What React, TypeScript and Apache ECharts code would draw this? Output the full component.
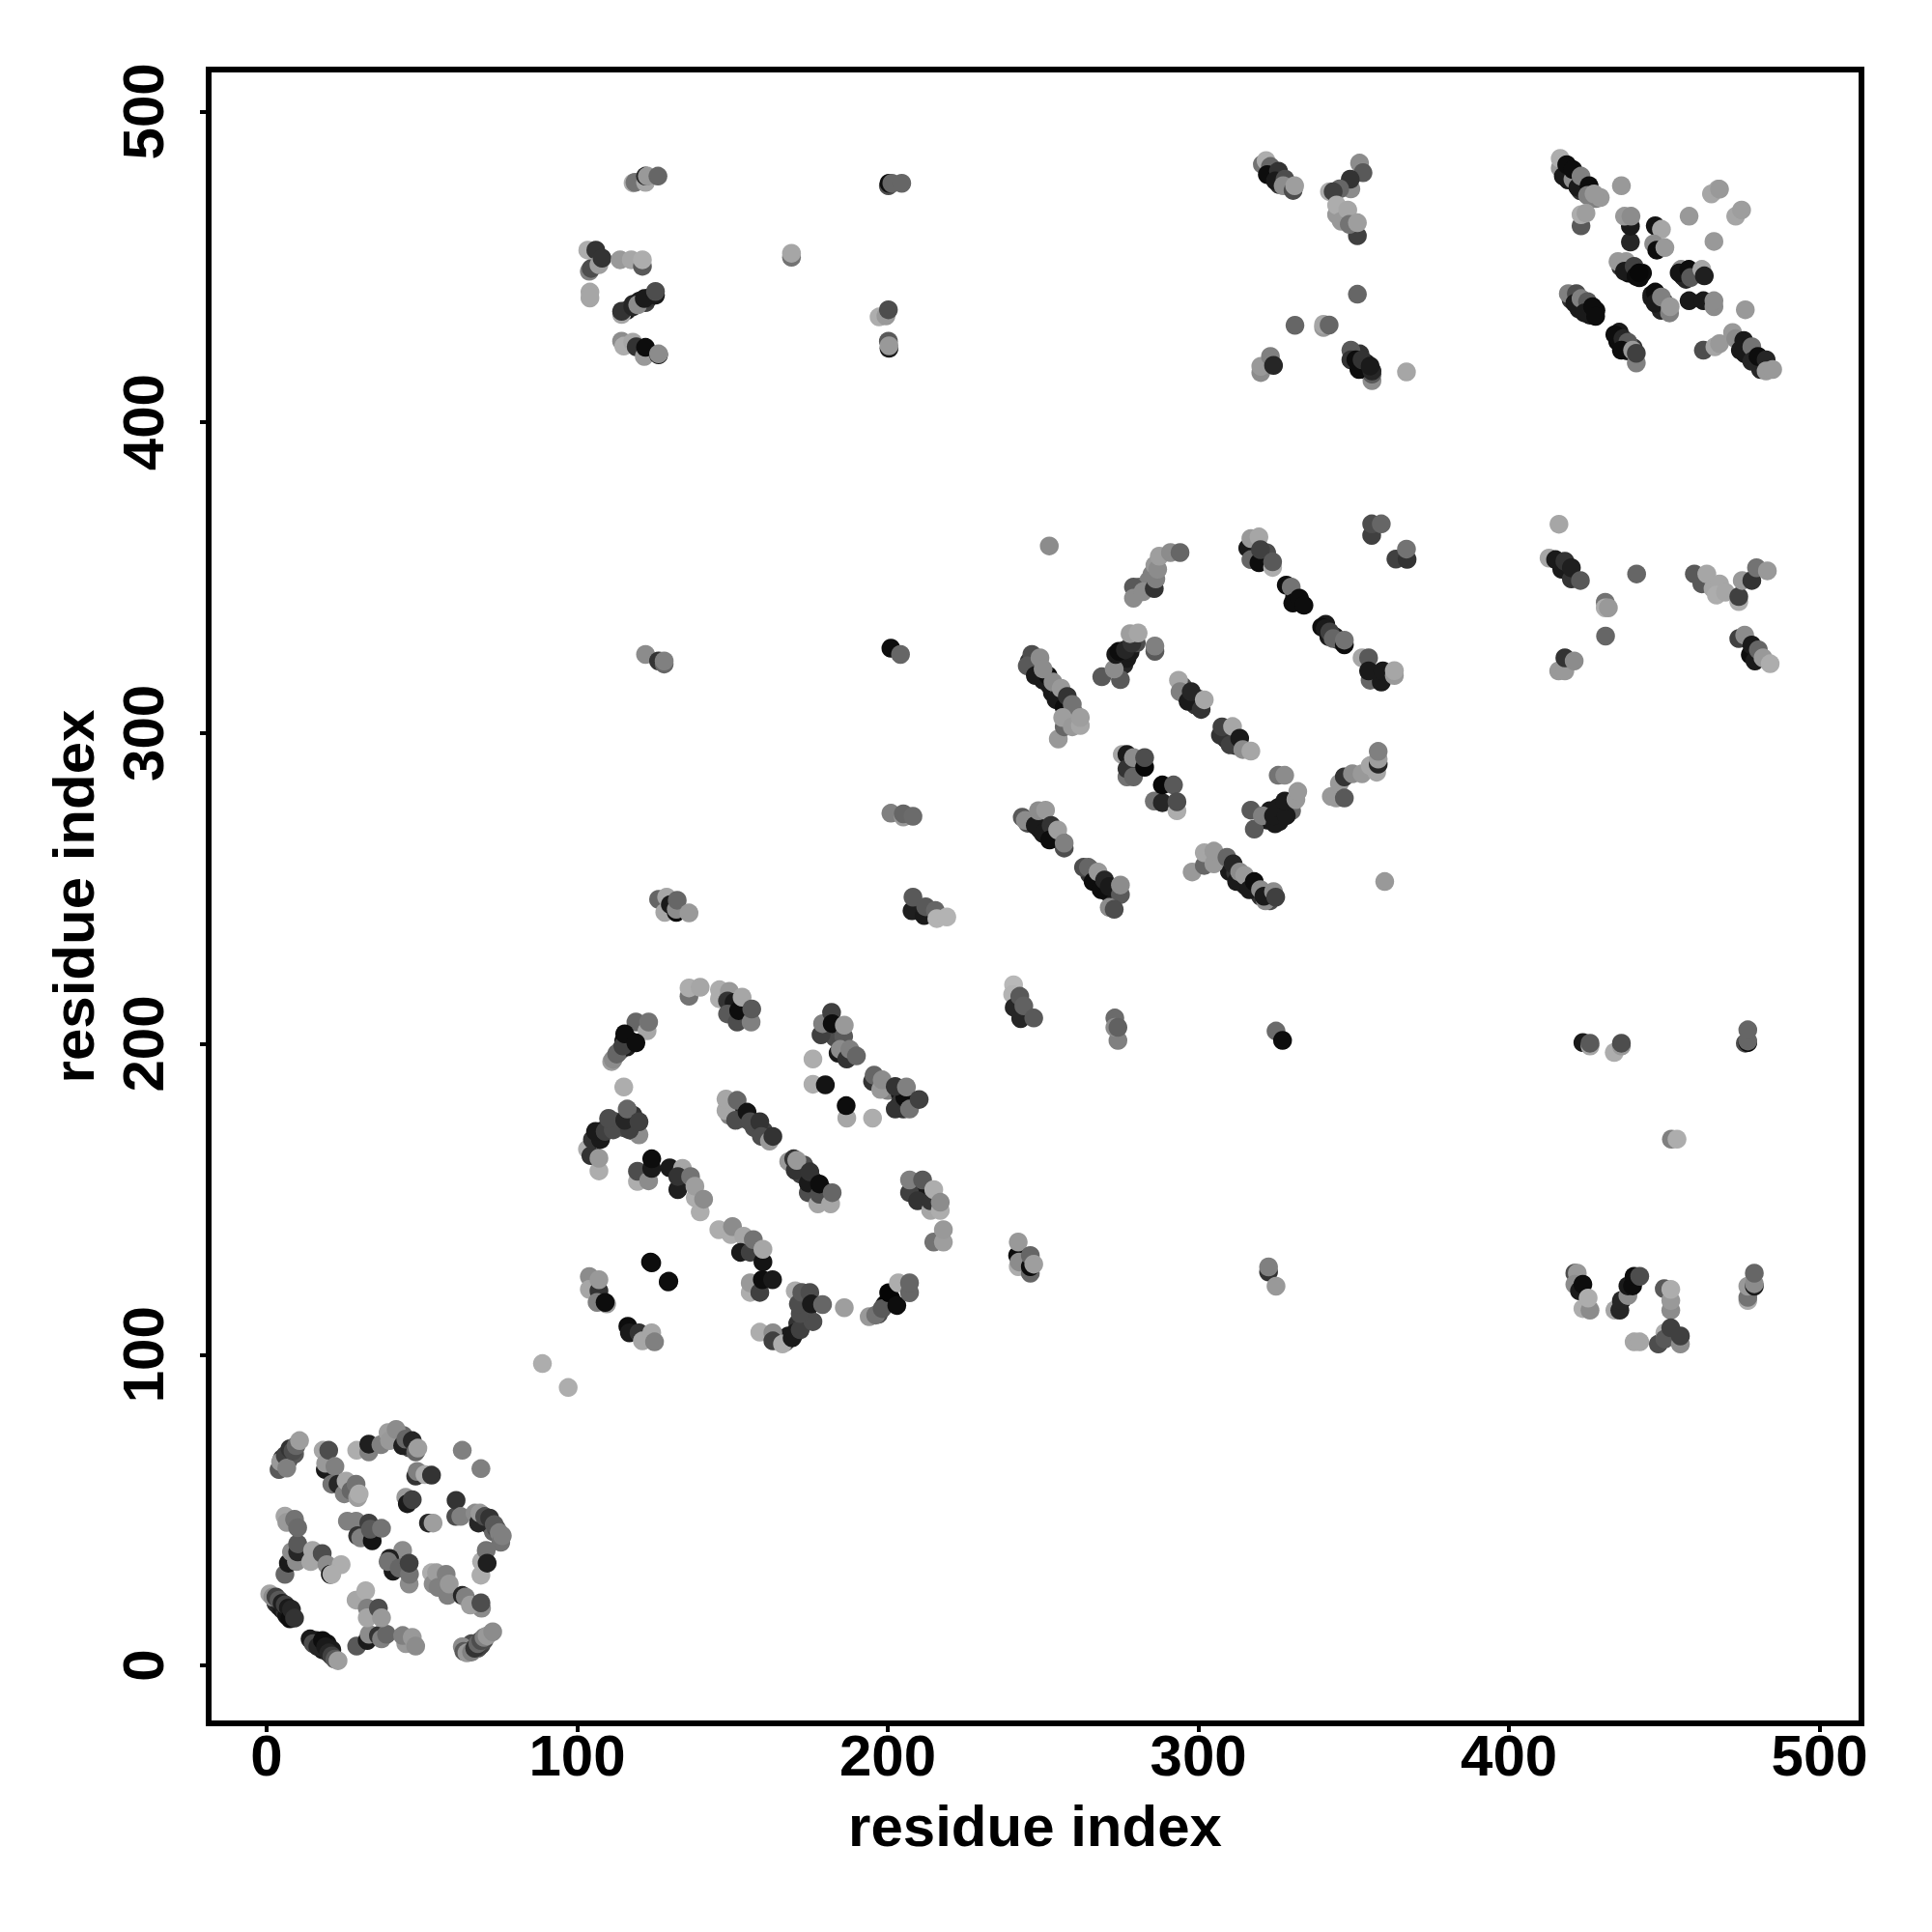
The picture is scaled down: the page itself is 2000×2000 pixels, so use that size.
import React, { useEffect, useRef } from "react";
import * as echarts from "echarts";

type P = [number, number, number];

const tickValues = [0, 100, 200, 300, 400, 500];
const axisTitle = "residue index";

const denseStrands: P[] = [
  [245.5,323,.2],[247,321,.15],[248.5,320,.1],[250,317,.1],[252,315.5,.1],[253,313,.1],[255,312,.2],[256,310,.15],[258,308,.3],[260,306.5,.5],
  [245,271,.3],[246.5,271.5,.2],[249,269,.1],[251,269.5,.25],[251.5,267,.1],[253.5,266,.15],[255.5,265.5,.35],
  [265,254.5,.2],[265.5,256,.45],[267,253,.1],[268.5,251,.1],[270.5,249,.08],[272.5,250,.2],[273,248,.1],
  [307,259,.4],[309,258,.2],[310,255.5,.1],[312,255,.2],[314,252.5,.15],[315,251,.1],[317,251,.4],[319,249,.2],[320,247.5,.2],[322,248,.3],[323,246,.3],
  [309,300,.2],[309,298,.15],[311,298,.15],[312,296,.2],
  [295,315,.3],[296,312,.2],[298,311,.1],[299,309,.2],[300,311,.3],
  [281,347,.4],[283,347,.3],[284,349,.5],[285,351,.5],[286,354,.6],
  [317.5,358,.15],[318,357,.1],[321,356,.1],[322,358,.3],
  [331,344,.05],[331,343,.1],[333,342,.05],
  [341,335,.1],[342,331,.1],[344,331,.1],[345,330,.15],
  [275,323,.1],[276,322,.15],[276,325,.1],[277,324,.1],[278,326,.1],[280,329,.3],
  [322,272,.1],[323,275,.1],[326,274,.1],[326,271.5,.1],[329,276,.2],[330,275,.4],
  [418,480,.1],[419,478,.1],[421,479.5,.1],[423,474.5,.2],[424,476.5,.05],[426,474.5,.1],[428,472,.5],
  [420,439.5,.2],[422.5,436.5,.1],[425,436,.1],[426,434.5,.1],[428,436,.05],
  [435,426,.05],[435.5,429,.1],[437.5,425,.1],[438,423,.1],[440,424,.2],
  [436,450,.2],[438.5,448,.05],[439,449.5,.1],[442,446.5,.05],[443,448,.05],
  [446,440,.1],[446,441,.1],[448,439,.1],[449,436,.15],[450,438.5,.1],
  [456,447,.1],[457,446,.15],[459,448,.2],
  [476,422,.1],[476,425,.1],[477,423,.1],[479,420,.1],[481,418,.1],[481,417,.15],[483,418,.05],
  [116,436,.1],[118,438,.15],[120,439,.1],[122,438.5,.25],[123,440,.2],
  [323,481,.2],[325,479,.1],[326,476.5,.2],[327,477,.1],[329,476,.2],
  [351,419,.1],[352,418.5,.1],[352,422,.2],[353.5,417,.1],[354,419,.1],
  [3,20,.2],[4,19,.15],[5,18,.1],[6,17,.2],[6.5,16,.08],[8,16,.15],
  [16,8,.1],[17,7,.1],[18,5,.1],[19.5,7,.08],[21,5,.1],
  [65,6,.4],[66,7,.3],[68,5.5,.3],[69,6.5,.25],[70,8,.3],
  [5,64,.4],[5,66.5,.2],[5.5,65,.3],[7,66,.3],[8,68,.2],[9,68,.35],
  [42,74,.5],[43,73,.3],[44,74,.4],[45,71,.2],[46,70,.3],[47,70,.25],
  [69,47,.1],[71,46,.2],[72,45,.2],[73,43,.4],[74,44,.3],
  [113,197,.3],[114,198,.35],[115,201,.05],[116,199,.1],[117,201,.05],
  [105,168,.15],[106,170,.1],[108,172,.15],[112,175,.3],[113,174,.3],[115,173,.3],[118,172,.3],[118,177,.2],
  [149,177,.5],[152,178,.1],[153,176,.2],[157,173,.3],[160,172,.25],[161,170,.2],
  [172,158,.25],[173,161,.3],[176,156,.2],[176,153,.1],[179,153,.2],
  [167,104,.3],[168,106,.1],[171,110,.2],[173,112,.3],[173,118,.3],[174,114,.3],
  [197,113,.3],[199,116,.1],[200,117,.02],[201,118,.02],
  [182,204,.2],[183,202,.3],[184,197,.1],[185,200,.3],[186,199,.1],[188,197,.2],
  [197,187,.3],[200,185,.5],[204,184,.1],[204,181,.2],[205,179,.2],
  [209,152,.2],[209,153,.1],[211,151,.1],[212,153,.1],
];

const blockA: P[] = [
  [1,23,.65],[2,22,.55],[3,22,.25],[4,21,.35],[5,20,.12],[6,19.5,.25],[7,18.5,.1],[7.5,15,.05],[8,18,.15],[9,15.2,.2],
  [14,8.5,.1],[15,7,.3],[16.5,6,.15],[18,8,.05],[19,6,.1],[20,4,.15],[21,3,.25],[22,2,.35],[23,1.5,.62],
  [29,6.2,.35],[32.4,8,.1],[33,10,.55],[36,9.6,.2],[37,8.5,.5],[38.6,10,.4],[44.8,7,.6],[43.8,9.6,.5],[46.9,9,.6],[48,6.2,.55],
  [28.8,21,.65],[31.9,24,.68],[32.4,18.4,.5],[32.4,15.3,.65],[36,18.4,.3],[37,15.3,.6],
  [63,6,.55],[63.5,4.5,.35],[64.5,4,.6],[66,4.3,.5],[67,5.5,.2],[68,7,.4],[69,8,.3],[70,9,.5],[71,9.5,.6],[72.8,10.8,.55],
  [53.1,29.8,.68],[53.6,26.2,.55],[54.7,29.8,.62],[55.2,25.1,.5],[57.8,29.3,.5],[58.3,22.5,.5],[58.8,26.2,.6],[63,22.5,.15],[64,22,.5],[69.2,18.4,.55],[65.6,19.4,.62],[69,20.1,.3],
  [45.9,26.2,.55],[43.8,37,.55],[39.6,34.4,.12],[40.7,30.3,.1],[39.1,33.4,.45],[42.7,31.3,.4],[46,29.3,.45],[45.9,32.9,.25],
  [26,46.4,.5],[28.8,46.4,.5],[29.3,41.7,.2],[30.3,41,.5],[34,40.1,.08],[32.9,45.8,.25],[33.4,43.8,.35],[37,44.1,.45],
  [5.9,29.3,.4],[7,32.9,.1],[8,36.5,.55],[9.6,33.4,.55],[10,36.5,.15],[10,39.1,.35],[14.2,33.4,.65],[14.8,37,.65],[17.9,36,.3],[19.4,32.4,.55],[20.5,29.3,.08],[24,32.4,.68],[21,29.3,.68],
  [5.9,48,.65],[6.5,46,.6],[9,47,.45],[10,44.3,.42],
  [4,63,.35],[4.5,65.5,.6],[6,67.5,.25],[6.5,63.5,.5],[7.5,69.7,.2],[8.5,69,.3],[9.5,70.7,.4],[10.6,72.3,.62],
  [18.2,69.2,.65],[18.9,63,.1],[19,65,.6],[20,69.2,.3],[22,64,.5],[21,58.3,.45],[23,58.3,.15],[25,55.2,.5],[25.6,59.3,.65],[27.2,56.2,.4],[28.8,58.3,.45],[29.3,54,.62],[29.8,55.2,.68],
  [29,69.2,.68],[32.9,68.7,.5],[32.9,71.2,.12],[36.8,71,.5],[39.1,74.9,.62],[39.6,72.3,.6],[41.7,75.9,.55],[43.8,70.7,.12],[44.8,72.8,.4],[46.9,72.3,.15],[48,68.7,.4],[48.7,69.9,.62],[48,60.9,.2],[48.5,62.4,.5],[51,61.4,.68],[53.1,61.2,.2],
  [63,69.2,.5],[69,63.3,.5],
  [44.8,54.1,.6],[45.3,52,.1],[46.9,53.3,.25],[52.1,45.8,.15],[53.6,45.8,.62],
  [60.9,47.9,.3],[61,53.1,.2],[62.5,47.9,.5],[67.1,49,.55],[68.2,45.8,.15],[68.7,49,.6],[70.2,47.9,.3],[71.8,47.4,.2],[73.3,45.3,.35],[74.9,42.7,.5],[75.4,39.6,.45],[75.9,41.7,.5],[69,29,.68],[69.2,33.4,.68],[70.7,37,.45],[71,32.9,.12],
];

const isolated: P[] = [[88.8,97.1,.68],[97.1,89.4,.68]];

const blockB: P[] = [
  [136,215.3,.45],[136,218,.68],[139.6,218.2,.65],
  [145.8,214.5,.68],[145.8,217.4,.68],[149,216.9,.6],[148.4,213.8,.2],[150.5,213.3,.1],[148.4,209.6,.35],[151.5,207,.3],[152,210.7,.05],[153.1,215,.65],[156,207,.5],[156.2,211.2,.35],
  [111.1,194.3,.62],[111.6,195,.55],[112.7,196.7,.4],[114.7,199.3,.25],[118.9,207,.4],[122.5,204.2,.65],[123,207,.45],[115.3,203.2,.05],[118.9,200.3,.05],
  [115,186.1,.68],
  [103.3,166.1,.68],[104.4,164,.2],[107,159.1,.68],[104.9,169.2,.2],[107,163.2,.6],[107.5,169.2,.1],[105.9,171.8,.1],[109,171.8,.25],[111.6,172.3,.3],[119.9,170.7,.55],[116.8,172.3,.25],[110.1,176,.3],[115.3,175.4,.15],[116.1,179,.4],[119.9,174.9,.25],
  [119.4,155.7,.68],[119.4,159,.3],[123,155.9,.55],[124,159.9,.1],[124,163,.05],
  [129.8,160.1,.1],[133.9,159.9,.65],[132.4,153.1,.12],[132.4,157.3,.2],[136.5,157.3,.45],[139.6,145.9,.68],[138,150.5,.68],[137.9,154.2,.62],[140.7,150,.55],
  [145.6,140.2,.68],[149.5,138.6,.68],[150,141.2,.55],[153.6,138.1,.65],[152.6,132.9,.1],[155.7,132.9,.25],[156.7,137,.45],[159.8,129.8,.08],[159.8,133.9,.65],
  [155.7,120,.68],[155.7,123.1,.6],[158.8,120,.25],[159.6,124.1,.05],[162.9,124.1,.1],
  [123.6,129.8,.05],[124,129.5,.05],[129.5,123.6,.05],[129.3,123.4,.05],
  [103.9,125.1,.55],[103.9,121,.65],[107,120.5,.2],[107,124.1,.6],[106.4,116.8,.5],[109.5,116.3,.6],[109,116.8,.05],
  [116.3,109.1,.05],[116.8,107,.1],[119.9,107,.2],[121,104.4,.65],[124,107,.65],[124.9,104.1,.5],
  [158.8,107.2,.68],[163,107,.55],[163,104.4,.25],[166.1,103.4,.68],[169.2,105.4,.1],[170.2,107,.1],[171.8,108,.25],[170.2,120.5,.68],[175.9,110.6,.3],[171.8,113.2,.3],[171.2,116.3,.3],[172.3,120,.35],[174.9,120,.3],[175.4,116.3,.1],[179,116.1,.4],[186,115.1,.62],
  [194,112.2,.6],[196.1,112.7,.45],[198.2,114.8,.35],[200.3,119.9,.02],[202.9,115.8,.05],[203.4,123.1,.68],[207,119.9,.4],[207,123.1,.4],
  [175.9,195.1,.68],[175.9,187,.68],[179.9,186.8,.08],[186.8,176.1,.65],[186.6,180.1,.05],[195.1,176.1,.68],
  [178.5,202.9,.25],[179,206.5,.5],[181.9,210.1,.25],[182.1,206.5,.05],[185.8,202.4,.35],[186,206,.6],[184.7,198.2,.55],[186.8,195.1,.2],[187.8,198.2,.5],[189.9,196.1,.4],
  [195.1,187.9,.2],[195.6,189.9,.4],[197.7,185.3,.6],[198.2,188.4,.55],[202.4,179,.2],[205.5,182.7,.05],[207,179,.45],[202.4,186.3,.2],[206,186.1,.5],[210.1,182.1,.25],
  [207,152.1,.25],[207,156.2,.5],[209.6,149.5,.2],[211.2,156.2,.35],[213.8,146.4,.65],[213.8,149.5,.2],[216.9,146.4,.68],[214.8,153.1,.68],[216.9,149,.55],[214.8,136.2,.45],[217.9,136.2,.62],[217.9,140.2,.6],
  [147.9,178.5,.65],[147.9,182.2,.65],[151,175.4,.3],[151.5,181.8,.4],[154.7,178,.08],[155.7,174.9,.3],[158.8,174.9,.2],[159.3,170.2,.3],[161.9,168.7,.6],[163,170.2,.2],
  [168.1,162.1,.6],[169.7,163,.2],[170.2,159.3,.2],[170.7,162.5,.6],[174.4,152.1,.3],[174.4,155.2,.1],[174.9,158.8,.2],[177.5,148.5,.65],[178,151.6,.3],[178,154.9,.05],[181.6,148.5,.65],[182.1,152.1,.4],
];

const blockC: P[] = [
  [252,360.2,.55],
  [279.1,347,.35],[279.1,343.4,.55],[282.2,345.5,.55],[285.8,346.5,.2],[286.3,349.6,.5],[286.9,352.7,.55],[287.4,356.9,.62],[291,358.1,.55],[294.1,358.1,.4],
  [315.9,359.5,.1],[316.9,355.8,.4],[316.9,362.6,.6],[319.5,354.8,.05],[319.5,363.1,.65],[320,359,.25],[323.9,353.3,.68],[323.9,355.1,.35],
  [328.3,347.6,.05],[329.9,347,.45],[330.4,341.8,.05],[332.5,343.4,.05],[334,341.1,.05],
  [339.7,334.1,.05],[340.8,333.6,.1],[342.3,332.5,.25],[343.4,330.4,.4],[347,328.4,.05],[347,329.9,.45],
  [352.7,324.2,.65],[354.8,324.2,.35],[355.3,317,.4],[354.8,320,.1],[358.9,316.4,.1],[359.4,320,.1],[363.1,318.5,.6],[363.1,320.1,.65],
  [355.8,363.6,.25],[355.8,367.3,.3],[358.9,367.3,.4],[363.6,356,.25],[367.2,355.9,.2],[367,359.2,.45],
  [246.4,325.3,.3],[244.9,321.6,.35],[247.5,318.5,.1],[249,324.2,.55],[251.6,318.5,.05],[250,320.6,.55],[253.2,316.4,.55],[254.2,310.7,.1],[255.8,314.4,.6],[256.8,308.2,.05],[257.8,311.8,.2],[259.4,309.2,.45],[254.9,298.1,.6],[256.8,302,.4],[256.3,305,.62],[259.4,302,.6],[262,302.4,.65],[262,305,.62],
  [268.9,318.1,.35],[274.9,317.2,.35],[272.9,320.6,.55],[273.4,325.3,.1],[274.4,326.3,.05],[276.5,326.8,.15],[278.6,328.9,.2],[278,332,.62],[280.6,332.2,.65],[286,326.3,.35],[286,328,.5],
  [293.6,317,.65],[294.1,313.3,.5],[296.7,310.2,.1],[297.7,313.3,.15],[300.9,307.6,.2],[301.9,310.7,.65],
  [307.1,299.3,.2],[307.6,302,.25],[310.2,296.2,.25],[311,302.1,.65],[313.3,298.3,.1],[314.3,294.7,.55],[316.9,294.2,.65],
  [275.5,293.1,.65],[277,293.1,.1],[277,285.9,.45],[277,288.5,.2],[279.1,285.9,.4],[279.1,292.1,.55],[282.7,289,.03],[282.7,292.1,.3],
  [285.8,278.1,.45],[288.4,277.6,.15],[288.4,283.3,.03],[292,283.3,.35],[293.1,275,.68],[293.1,277.9,.3],
  [325.7,286.4,.45],[327.8,286.4,.55],[316.9,275.2,.35],[318,269.1,.35],[320.6,273.4,.5],[324.7,270.8,.1],[324.2,273.4,.1],[325.7,276,.1],[328.3,273.4,.1],[327.8,278.1,.1],[331.4,278.6,.6],[332,281.2,.6],
  [342.8,279.6,.6],[344.4,279.1,.6],[345.4,283.8,.6],[347,279.1,.35],[347,285.9,.2],[349.6,286.9,.55],[352.7,286.9,.6],[355.3,289.5,.65],[357.4,287.4,.65],[357.9,290,.15],[357.9,291.6,.62],[357.9,294.1,.5],
  [360,252.2,.6],
  [243.3,272.9,.35],[244.3,271.9,.55],[247.5,270.3,.1],[248.5,275,.55],[250,267.7,.1],[250.8,275.2,.6],[252.6,270.3,.2],[252.1,265.6,.05],[254.7,268.8,.62],[256.8,263,.3],[256.8,264.6,.5],
  [263,256.8,.3],[264.6,256.8,.4],[266.1,252.2,.05],[267.7,255.3,.6],[268.7,249.6,.05],[269.8,252.7,.15],[271.3,250.6,.1],[274.9,248,.35],[271.3,243.9,.55],[272.9,243.3,.3],[274.9,251.1,.55],
  [298,255.3,.6],[301.9,257.4,.4],[301.9,261.5,.65],[305,257.9,.6],[305,262,.6],[309.2,260,.4],[311.2,257.9,.15],[312.3,252.2,.1],[313.3,255.3,.55],[314.9,254.2,.6],[316.4,249.6,.1],[318,252.2,.05],[320,249.6,.55],[321.6,246,.55],[321.1,247.5,.1],[324.2,249,.55],[324.9,247.2,.25],
];

const blockD: P[] = [
  [416.5,481.8,.6],[416.5,484.9,.68],[417.5,479.2,.1],[418.6,482.9,.05],[420.6,478.2,.55],[420.6,481.3,.05],[422.2,475.6,.1],[423.2,479.2,.5],[425.8,476.1,.05],[429.4,472.3,.6],[425.3,473,.5],[427.4,473.5,.6],
  [436.2,476.1,.6],[423.2,463.2,.35],[423.2,466.8,.68],[424.8,467.3,.62],
  [439.1,458,.15],[439.1,463.1,.1],[437.2,466.3,.6],[439.3,466.3,.55],
  [447.1,463.2,.08],[449.1,462.1,.65],[446.6,457.4,.55],[447.6,455.4,.05],[450.2,456.2,.6],
  [458,466.3,.6],[465.2,473.5,.65],[467.3,475,.65],[467.8,475,.6],[473,466.3,.65],[474.9,468.3,.62],[466,458.2,.6],
  [435.1,451.7,.6],[437.7,451.7,.6],[437.2,448.6,.1],[440.3,450.2,.25],[440.9,447,.05],[441.9,448.1,.03],
  [455.4,449.2,.55],[454.8,448.1,.08],[457.9,449.2,.05],[458.5,446.6,.35],[462.1,449.2,.65],[462.9,447.1,.12],
  [447.1,441.9,.05],[447.1,438.3,.1],[449.1,440.3,.5],[451.7,435.2,.5],[451.9,437.2,.6],
  [458,439.1,.1],[462.6,439.1,.1],[466,437.2,.55],[466,439.1,.55],[476.1,436.2,.6],
  [419.1,441.4,.5],[421.7,441.4,.3],[421.2,438.3,.1],[423.2,439.8,.5],[425.3,438.8,.35],[424.3,435.2,.1],[426.9,437.2,.05],[427.9,434.1,.05],
  [434.1,428.2,.05],[436.7,426.9,.15],[438.3,425.8,.35],[436.2,423.2,.05],[439.8,423.2,.6],[441,419.1,.5],[441,422.2,.25],
  [462.6,423.2,.3],[466.3,424.3,.65],[467.8,425.3,.6],[472,428.9,.6],[473,426.9,.55],[475.6,426.3,.1],[474.5,423.2,.1],[478.2,424.3,.45],[478.2,419.6,.15],[480.2,421.2,.05],[482.8,420.1,.15],[482.8,416.5,.6],[484.9,417,.6],
];

const blockE: P[] = [
  [320.6,483,.45],[321.8,484.2,.68],[323.2,482.3,.4],[322.2,479.7,.05],[325.8,480.8,.2],[324.8,477.7,.1],[327.9,478.2,.3],[327.3,476.1,.55],[330.5,474.6,.3],[331,476.1,.62],
  [351.9,483.4,.55],[353,480.3,.35],[349.1,475.1,.55],[348.9,478.2,.2],[345.5,475.1,.4],[342.2,474.2,.68],[343.4,474.2,.25],[344.5,466.8,.6],[344.5,469.9,.68],[346,464.7,.6],[348.1,468.3,.65],[351.2,460,.25],[348.6,463.7,.45],[351.2,464.2,.62],
  [351.2,441.2,.4],[331.1,431.2,.4],[340.3,430.5,.6],[340.3,431.5,.65],[342.1,431.3,.4],
  [320.1,416,.55],[320.1,418,.6],[323.2,421.2,.5],[324.2,418.3,.15],
  [355.9,413.4,.55],[355.9,415.5,.35],[349.1,423.2,.35],[349.1,420.1,.2],[350.7,420.1,.05],[351.7,417,.05],[352.7,420.1,.2],[355.9,416.5,.15],[355.3,418.1,.1],
  [367,416.2,.65],
];

const blockF: P[] = [
  [118,477,.68],[118.6,477.2,.45],[122,477.2,.65],[122,479.2,.15],[122.6,479.2,.6],[126,479.2,.4],
  [103.4,455.4,.68],[106,455.4,.2],[103.9,448.6,.5],[104.5,449.5,.3],[107,450.7,.62],[108,452.8,.2],[113.8,452.3,.6],[117.4,452.3,.65],[121,450.2,.35],[121,452.3,.68],[104.1,441.9,.65],[104.1,440,.65],
  [114.3,434.7,.65],[114.3,435.7,.2],[117.9,437.2,.15],[119.5,437.8,.55],[121.6,439.8,.1],[125.2,440.9,.1],[125.2,442.1,.3],
  [114.3,426.1,.55],[115,424.5,.68],[117.9,425.8,.65],[119,424.3,.2],[121.6,421.2,.6],[122,424.1,.05],[126.2,421.7,.1],[126.2,422,.55],
  [169,453.1,.45],[169,454.4,.65],
  [197.2,433.9,.68],[199.4,434.2,.6],[200.2,436.2,.3],[200.4,423.8,.1],[200.2,426.1,.35],[200.4,424.6,.6],[200.2,476.1,.3],[200.4,476.9,.05],[201.3,476.9,.4],[204.5,476.9,.4],
];

const blockG: P[] = [
  [416.1,367.2,.65],[412.9,356.3,.65],[415,355.8,.1],[417,352.7,.1],[418,355.3,.2],[420.1,349.6,.2],[420.1,353.2,.12],[423,349.1,.35],
  [441.1,351.2,.4],[431,342.1,.45],[431,340.3,.68],[432,340.3,.6],[431.1,331.2,.4],
  [416,320,.6],[418,320,.6],[418,324.2,.2],[421,323.2,.55],
  [459.7,351.2,.35],[462.1,348,.35],[463.7,351.2,.65],[465.7,346.5,.65],[467.8,348,.65],[466.8,344.4,.68],[469.7,345.3,.65],[474,342.3,.68],[474,343.9,.25],[475.1,349.1,.6],[478.2,349.1,.2],[479.7,353.2,.45],[483.2,352.2,.6],
  [474,330.4,.25],[475.9,331.5,.55],[477.7,325.2,.05],[478.2,328.3,.1],[479.2,323.2,.1],[480.3,326.8,.4],[481.8,324.2,.6],[484.1,322.3,.68],
];

const blockH: P[] = [
  [423.8,200.4,.1],[426.1,199.3,.65],[426.1,200.2,.35],[433.9,197.2,.68],[436.2,199.3,.6],[436.2,200.2,.3],[476.1,200.2,.3],[476.9,200.4,.05],[476.9,200.9,.4],[476.9,204.5,.4],
  [452.3,169.3,.5],[454.1,169.3,.68],
  [421.2,126.2,.3],[422,126.2,.6],[421.2,122.6,.55],[422.7,120.5,.1],[423.8,122.6,.05],[423.8,114.8,.68],[426.1,114.3,.55],[425.5,118.2,.68],
  [434.1,114.3,.65],[435.7,114.3,.15],[436.2,117.4,.15],[438.3,119,.55],[438.3,122.1,.1],[439.8,122.1,.05],[440.3,125.2,.05],[442.1,125.2,.3],
  [450,121.2,.35],[452.1,114.3,.55],[452.1,117.4,.6],[452.1,121,.68],
  [440.3,104.1,.65],[442.1,104.1,.65],[448.1,103.4,.3],[450.2,107,.68],[450.2,105,.35],[452.1,108.6,.25],[455.2,103.4,.55],[455.2,106,.25],
  [476.9,117.4,.68],[476.9,118.4,.45],[476.9,122,.6],[479,122,.1],[479,122.8,.55],[479,126.2,.4],
];

const blockI: P[] = [
  [240.5,219,.72],[240.2,215.9,.7],[240.7,211.7,.15],[242.5,215.3,.35],[242.8,208.1,.15],[243.8,212.2,.38],[247,208.3,.35],
  [273.1,208.3,.42],[274.1,201.1,.5],[273.1,205.3,.55],[274.1,205.3,.38],
  [325,204.1,.42],[327.1,201.1,.05],
  [242,128.3,.68],[241.8,131.9,.05],[242,136.2,.6],[242.3,129.8,.55],[245.9,126.2,.4],[245.9,128.3,.05],[245.9,131.9,.4],[247,129.1,.62],
  [322.6,126.6,.2],[322.6,128.2,.5],[325,122,.6],
  [122,325.3,.55],[126.2,323.2,.2],[128,322.2,.4],[128,323.2,.5],
  [201,327.3,.05],[204.1,325.3,.4],
  [201,274.2,.5],[205,273,.6],[205,274,.4],[208.1,273.2,.42],
  [126.2,246.5,.4],[128.2,242.3,.65],[128.8,247.2,.65],[130,244.8,.1],[131.9,242.3,.05],[131.9,243.3,.55],[132.2,246.2,.4],[136,242.1,.6],
  [207.8,242.8,.12],[208.1,247.2,.35],[211.7,241.3,.1],[212.2,244.1,.35],[215.3,242.9,.4],[215.8,240.3,.7],[219,240.8,.7],
];

const allPoints: P[] = [...denseStrands, ...blockA, ...isolated, ...blockB, ...blockC, ...blockD, ...blockE, ...blockF, ...blockG, ...blockH, ...blockI];

const grayColor = (level: number) => {
  const c = Math.round(level * 255);
  return `rgb(${c},${c},${c})`;
};

export default function App() {
  const ref = useRef<HTMLDivElement>(null);
  useEffect(() => {
    const chart = echarts.init(ref.current!, null, { renderer: "svg" });
    const font = { fontFamily: "Liberation Sans", fontWeight: "bold" as const, fontSize: 60, color: "#000" };
    chart.setOption({
      animation: false,
      backgroundColor: "#fff",
      grid: { left: 216, top: 72, width: 1711, height: 1712, show: true, borderColor: "#000", borderWidth: 6, backgroundColor: "transparent" },
      xAxis: {
        type: "value", min: -18.66, max: 513.5, name: axisTitle, nameLocation: "middle", nameGap: 76, nameTextStyle: font,
        splitLine: { show: false }, axisLine: { show: false, onZero: false },
        axisTick: { show: true, length: 9, lineStyle: { color: "#000", width: 4 }, customValues: tickValues },
        axisLabel: { ...font, margin: 3, customValues: tickValues },
      },
      yAxis: {
        type: "value", min: -18.66, max: 513.5, name: axisTitle, nameLocation: "middle", nameGap: 110, nameTextStyle: font,
        splitLine: { show: false }, axisLine: { show: false, onZero: false },
        axisTick: { show: true, length: 9, lineStyle: { color: "#000", width: 4 }, customValues: tickValues },
        axisLabel: { ...font, margin: 38, rotate: 90, customValues: tickValues },
      },
      series: [{
        type: "scatter", symbol: "circle", symbolSize: 19.5, data: allPoints,
        itemStyle: { opacity: 1, color: (p: any) => grayColor(p.value[2]) },
      }],
    });
    return () => chart.dispose();
  }, []);
  return <div ref={ref} style={{ position: "absolute", left: 0, top: 0, width: 2000, height: 2000 }} />;
}
